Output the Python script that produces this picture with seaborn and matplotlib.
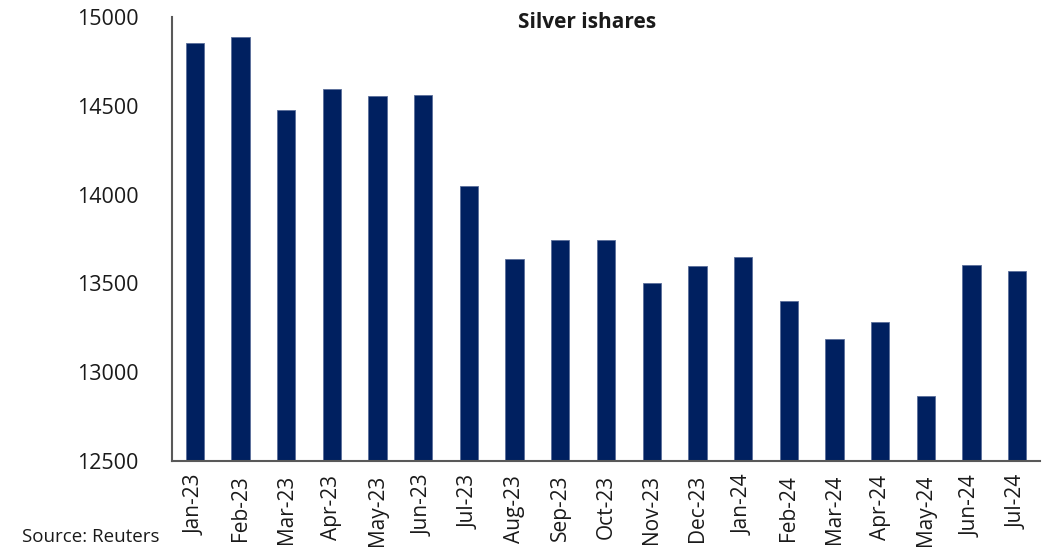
import pandas as pd
import matplotlib
matplotlib.use("Agg")
import matplotlib.pyplot as plt
import seaborn as sns

# data
months = ["Jan-23", "Feb-23", "Mar-23", "Apr-23", "May-23", "Jun-23", "Jul-23",
          "Aug-23", "Sep-23", "Oct-23", "Nov-23", "Dec-23", "Jan-24", "Feb-24",
          "Mar-24", "Apr-24", "May-24", "Jun-24", "Jul-24"]
holdings = [14853, 14887, 14477, 14592, 14555, 14561, 14048,
            13637, 13744, 13743, 13502, 13600, 13650, 13403,
            13189, 13281, 12868, 13604, 13570]
y_ticks = [12500, 13000, 13500, 14000, 14500, 15000]

df = pd.DataFrame({"month": months, "value": holdings})

sns.set_style("white")
plt.rcParams["font.family"] = ["Open Sans", "DejaVu Sans"]

fig = plt.figure(figsize=(10.53, 5.54), dpi=100)
ax = fig.add_axes([0.1633, 0.1679, 0.8244, 0.8014])

sns.barplot(data=df, x="month", y="value", color="#002060", width=0.4,
            saturation=1, edgecolor="#5a6e9a", linewidth=0.6, ax=ax)

ax.set_ylim(12500, 15000)
ax.set_yticks(y_ticks)
ax.set_yticklabels([str(t) for t in y_ticks], fontsize=15.5, color="#1a1a1a")
ax.set_xlim(-0.5, len(months) - 0.5)
ax.tick_params(axis="x", labelrotation=90, labelsize=15, length=0, pad=10, colors="#1a1a1a")
ax.tick_params(axis="y", length=0, pad=24)
ax.set_xlabel("")
ax.set_ylabel("")

for s in ["top", "right"]:
    ax.spines[s].set_visible(False)
for s in ["left", "bottom"]:
    ax.spines[s].set_color("#595959")
    ax.spines[s].set_linewidth(1.5)

fig.text(587 / 1053, 1 - 22 / 554, "Silver ishares", ha="center", va="center",
         fontsize=15, fontweight="bold", color="#1a1a1a")
fig.text(22 / 1053, 1 - 537 / 554, "Source: Reuters", ha="left", va="center",
         fontsize=13.5, color="#1a1a1a")

fig.savefig("out.png", dpi=100)
